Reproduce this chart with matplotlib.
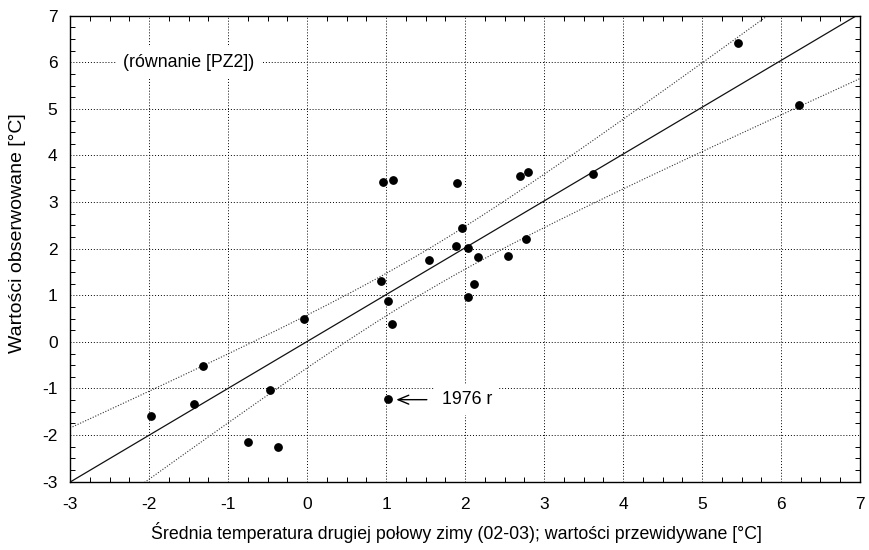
import numpy as np
import matplotlib
matplotlib.use("Agg")
from matplotlib import pyplot as plt
from matplotlib.ticker import MultipleLocator

plt.rcParams['font.family'] = ['Liberation Sans', 'DejaVu Sans']
plt.rcParams['axes.unicode_minus'] = False

# predicted (x) and observed (y) winter temperatures
pred = [-1.98, -1.43, -1.32, -0.75, -0.37, -0.47, -0.04, 0.94, 1.03, 1.07,
        1.03, 1.54, 0.96, 1.09, 1.90, 1.96, 1.88, 2.04, 2.17, 2.54,
        2.77, 2.69, 2.80, 3.62, 5.46, 6.23, 2.12, 2.04]
obs = [-1.58, -1.34, -0.52, -2.15, -2.25, -1.04, 0.49, 1.30, 0.88, 0.39,
       -1.23, 1.76, 3.44, 3.47, 3.40, 2.45, 2.06, 2.02, 1.82, 1.84,
       2.21, 3.57, 3.65, 3.60, 6.41, 5.08, 1.25, 0.96]
x = np.array(pred)
y = np.array(obs)

# linear fit with 95% confidence band for the mean
b, a = np.polyfit(x, y, 1)
n = len(x)
resid = y - (a + b * x)
s = np.sqrt(np.sum(resid ** 2) / (n - 2))
t95 = 2.056
xm = x.mean()
sxx = np.sum((x - xm) ** 2)
xx = np.linspace(-3, 7, 200)
yy = a + b * xx
band = t95 * s * np.sqrt(1.0 / n + (xx - xm) ** 2 / sxx)

fig = plt.figure(figsize=(8.7, 5.5), dpi=100)
ax = fig.add_axes([0.0805, 0.1242, 0.908, 0.8473])

ax.plot(xx, yy, color='#111111', lw=0.9)
ax.plot(xx, yy + band, color='#333333', lw=0.8, ls=(0, (1, 1.5)))
ax.plot(xx, yy - band, color='#333333', lw=0.8, ls=(0, (1, 1.5)))
ax.scatter(x, y, s=28, color='black', zorder=5)

ax.set_xlim(-3, 7)
ax.set_ylim(-3, 7)
ax.xaxis.set_major_locator(MultipleLocator(1))
ax.yaxis.set_major_locator(MultipleLocator(1))
ax.xaxis.set_minor_locator(MultipleLocator(0.25))
ax.yaxis.set_minor_locator(MultipleLocator(0.25))
ax.tick_params(which='both', direction='in', top=True, right=True,
               labelsize=12.5, colors='black')
ax.tick_params(which='major', length=0)
ax.tick_params(axis='x', which='major', pad=11)
ax.tick_params(axis='y', which='major', pad=9)
ax.tick_params(which='minor', length=3.5, width=0.7)
ax.grid(True, which='major', color='black', ls=(0, (1, 2)), lw=0.7)
for sp in ax.spines.values():
    sp.set_linewidth(1.0)

ax.text(-2.33, 6.0, '(równanie [PZ2])', fontsize=12.8, va='center', ha='left',
        bbox=dict(facecolor='white', edgecolor='none', pad=5), zorder=4)
ax.annotate('1976 r', xy=(1.13, -1.24), xytext=(1.71, -1.24), fontsize=12.8,
            va='center', ha='left',
            bbox=dict(facecolor='white', edgecolor='none', pad=5),
            arrowprops=dict(arrowstyle='->,head_length=0.6,head_width=0.25',
                            color='black', lw=1.0, shrinkA=6, shrinkB=0),
            zorder=4)

ax.set_xlabel('Średnia temperatura drugiej połowy zimy (02-03); wartości przewidywane [°C]',
              fontsize=12.8)
ax.set_ylabel('Wartości obserwowane [°C]', fontsize=14)
ax.xaxis.set_label_coords(0.489, -0.087)
ax.yaxis.set_label_coords(-0.056, 0.534)

fig.savefig('out.png', dpi=100)
